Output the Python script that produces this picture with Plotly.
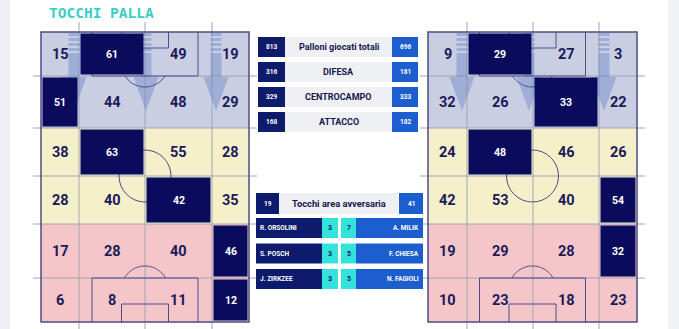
import numpy as np
import plotly.graph_objects as go

# ---------------- DATA ----------------
TITLE = "TOCCHI PALLA"

home_grid = [
    [15, 61, 49, 19],
    [51, 44, 48, 29],
    [38, 63, 55, 28],
    [28, 40, 42, 35],
    [17, 28, 40, 46],
    [6, 8, 11, 12],
]
away_grid = [
    [9, 29, 27, 3],
    [32, 26, 33, 22],
    [24, 48, 46, 26],
    [42, 53, 40, 54],
    [19, 29, 28, 32],
    [10, 23, 18, 23],
]
home_top = [(0, 1), (1, 0), (2, 1), (3, 2), (4, 3), (5, 3)]
away_top = [(0, 1), (1, 2), (2, 1), (3, 3), (4, 3)]

stat_labels = ["Palloni giocati totali", "DIFESA", "CENTROCAMPO", "ATTACCO"]
home_stats = [813, 316, 329, 168]
away_stats = [696, 181, 333, 182]

box_label = "Tocchi area avversaria"
home_box = 19
away_box = 41
home_players = ["R. ORSOLINI", "S. POSCH", "J. ZIRKZEE"]
home_player_touches = [3, 3, 3]
away_players = ["A. MILIK", "F. CHIESA", "N. FAGIOLI"]
away_player_touches = [7, 5, 5]

# ---------------- LAYOUT / STYLE ----------------
W, H = 679, 329
ROW_EDGES = [32, 76, 128, 176, 224, 278, 322]
LEFT_COLS = [41, 79, 145, 212, 249]
RIGHT_COLS = [428, 467, 533, 599, 637]
ZONE_COLORS = ["#c9cee3", "#c9cee3", "#f6f0ca", "#f6f0ca", "#f5c6c9", "#f5c6c9"]
DARK = "#0b0b5e"
TEXT = "#1b1b58"
GRID = "#a0a4b2"
LINE = "#4d4c88"
ARROW = "rgba(100,130,195,0.42)"
NAVY = "#0c1b6c"
BLUE = "#1d5ecf"
TEAL = "#34e2dc"
LABEL_BG = "#eef0f4"
FONT = "Roboto"

shapes = []
annotations = []


def rect(x0, y0, x1, y1, fill, line_color=None, lw=0, layer="above"):
    shapes.append(dict(type="rect", xref="x", yref="y", x0=x0, y0=y0, x1=x1, y1=y1,
                       fillcolor=fill, line=dict(color=line_color or fill, width=lw),
                       layer=layer))


def seg(x0, y0, x1, y1, color, lw=1):
    shapes.append(dict(type="line", xref="x", yref="y", x0=x0, y0=y0, x1=x1, y1=y1,
                       line=dict(color=color, width=lw)))


def path(d, color=None, lw=1, fill=None):
    s = dict(type="path", xref="x", yref="y", path=d,
             line=dict(color=color or "rgba(0,0,0,0)", width=lw))
    if fill:
        s["fillcolor"] = fill
    shapes.append(s)


def arc(cx, cy, r, t0, t1, n=40):
    t = np.linspace(t0, t1, n)
    xs = cx + r * np.cos(t)
    ys = cy + r * np.sin(t)
    return "M " + " L ".join(f"{x:.2f},{y:.2f}" for x, y in zip(xs, ys))


def text(x, y, s, size, color, bold=True, xanchor="center", family=FONT):
    annotations.append(dict(x=x, y=y, xref="x", yref="y", text=f"<b>{s}</b>" if bold else s,
                            showarrow=False, xanchor=xanchor, yanchor="middle",
                            font=dict(family=family, size=size, color=color)))


def draw_pitch(cols, grid, tops, arrow_xs, hx0, hx1):
    x0, x1 = cols[0], cols[-1]
    top, bot = ROW_EDGES[0], ROW_EDGES[-1]
    cx = (x0 + x1) / 2
    # zones
    for i, c in enumerate(ZONE_COLORS):
        rect(x0, ROW_EDGES[i], x1, ROW_EDGES[i + 1], c)
    # grid lines
    for x in cols[1:-1]:
        seg(x, 22, x, H, GRID, 1)
    for y in ROW_EDGES[1:-1]:
        seg(hx0, y, hx1, y, GRID, 1)
    # arrows
    for ax in arrow_xs:
        for ys in range(33, 56, 5):
            rect(ax - 5.5, ys, ax + 5.5, ys + 3, ARROW)
        rect(ax - 5.5, 56, ax + 5.5, 77, ARROW)
        path(f"M {ax-12.5},77 L {ax+12.5},77 L {ax},111 Z", fill=ARROW)
    # markings
    pw, gw = 53, 23.5
    path(f"M {cx-pw},{top} L {cx-pw},{ROW_EDGES[1]} L {cx+pw},{ROW_EDGES[1]} L {cx+pw},{top}", LINE, 1)
    path(f"M {cx-gw},{top} L {cx-gw},{top+16} L {cx+gw},{top+16} L {cx+gw},{top}", LINE, 1)
    r = 23.5
    a = np.arcsin(12.5 / r)
    path(arc(cx, ROW_EDGES[1] - 12.5, r, a, np.pi - a), LINE, 1)
    path(f"M {cx-pw},{bot} L {cx-pw},{ROW_EDGES[5]} L {cx+pw},{ROW_EDGES[5]} L {cx+pw},{bot}", LINE, 1)
    path(f"M {cx-gw},{bot} L {cx-gw},{bot-18} L {cx+gw},{bot-18} L {cx+gw},{bot}", LINE, 1)
    a2 = np.arcsin(11.5 / r)
    path(arc(cx, ROW_EDGES[5] + 11.5, r, -np.pi + a2, -a2), LINE, 1)
    mid = ROW_EDGES[3]
    shapes.append(dict(type="circle", xref="x", yref="y", x0=cx - 26, x1=cx + 26,
                       y0=mid - 26, y1=mid + 26, line=dict(color=LINE, width=1)))
    # highlighted cells
    for (ri, ci) in tops:
        rect(cols[ci] + 1.5, ROW_EDGES[ri] + 1.5, cols[ci + 1] - 1.5, ROW_EDGES[ri + 1] - 1.5, DARK)
    # border
    shapes.append(dict(type="rect", xref="x", yref="y", x0=x0, x1=x1, y0=top, y1=bot,
                       line=dict(color=LINE, width=1.5), fillcolor="rgba(0,0,0,0)"))
    # values
    for ri, row in enumerate(grid):
        for ci, v in enumerate(row):
            xm = (cols[ci] + cols[ci + 1]) / 2
            ym = (ROW_EDGES[ri] + ROW_EDGES[ri + 1]) / 2
            if (ri, ci) in tops:
                text(xm, ym, v, 10.5, "white")
            else:
                text(xm, ym, v, 14.5, TEXT)


# background strips
rect(0, 0, 10, H, "#eef0f3")
rect(668, 0, W, H, "#eff1f4")

draw_pitch(LEFT_COLS, home_grid, home_top, [74, 146, 216], 33, 257)
draw_pitch(RIGHT_COLS, away_grid, away_top, [462, 529, 604], 420, 645)

# title
text(47, 13, TITLE, 14.5, "#3ccdc5", xanchor="left", family="DejaVu Sans Mono")

# stats table
for i, lab in enumerate(stat_labels):
    y0 = 37 + i * 25
    y1 = y0 + 20
    rect(258, y0, 285, y1, NAVY)
    rect(285, y0, 392, y1, LABEL_BG)
    rect(392, y0, 418, y1, BLUE)
    ym = (y0 + y1) / 2
    text(271.5, ym, home_stats[i], 6.5, "white")
    text(338.5, ym, lab, 9, "#17174f")
    text(405, ym, away_stats[i], 6.5, "white")

# box touches
rect(256, 193, 279, 214, NAVY)
rect(279, 193, 398, 214, LABEL_BG)
rect(399, 193, 423, 214, BLUE)
text(267.5, 203.5, home_box, 6.5, "white")
text(339, 203.5, box_label, 9.3, "#17174f")
text(411, 203.5, away_box, 6.5, "white")

for i in range(len(home_players)):
    y0 = 218 + i * 25.5
    y1 = y0 + 20
    ym = (y0 + y1) / 2
    rect(256, y0, 322, y1, NAVY)
    rect(322, y0, 338, y1, TEAL)
    rect(341, y0, 356, y1, TEAL)
    rect(356, y0, 423, y1, BLUE)
    text(258, ym, home_players[i], 6.5, "white", xanchor="left")
    text(330, ym, home_player_touches[i], 7, NAVY)
    text(348.5, ym, away_player_touches[i], 7, NAVY)
    text(421, ym, away_players[i], 6.5, "white", xanchor="right")

fig = go.Figure()
fig.update_layout(
    width=W, height=H, autosize=False,
    margin=dict(l=0, r=0, t=0, b=0, pad=0),
    paper_bgcolor="white", plot_bgcolor="white",
    xaxis=dict(range=[0, W], visible=False, fixedrange=True),
    yaxis=dict(range=[H, 0], visible=False, fixedrange=True),
    shapes=shapes, annotations=annotations, showlegend=False,
)
fig.write_html("out.html", config={"displayModeBar": False})
